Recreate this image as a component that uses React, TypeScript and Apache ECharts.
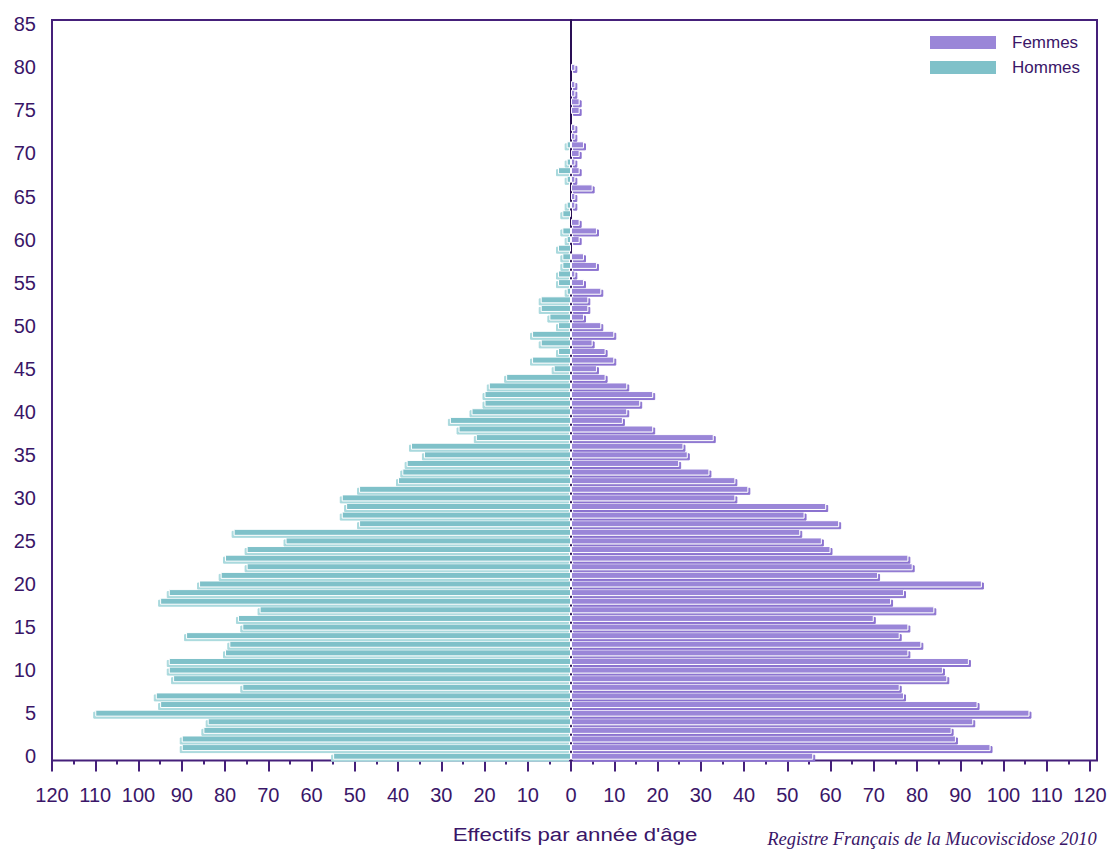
import React, { useEffect, useRef } from "react";
import * as echarts from "echarts";

// Age categories 0..85 (y axis)
const ages: string[] = [
  "0","1","2","3","4","5","6","7","8","9",
  "10","11","12","13","14","15","16","17","18","19",
  "20","21","22","23","24","25","26","27","28","29",
  "30","31","32","33","34","35","36","37","38","39",
  "40","41","42","43","44","45","46","47","48","49",
  "50","51","52","53","54","55","56","57","58","59",
  "60","61","62","63","64","65","66","67","68","69",
  "70","71","72","73","74","75","76","77","78","79",
  "80","81","82","83","84","85",
];

// Femmes, by age 0..80
const femmes: number[] = [
  56, 97, 89, 88, 93, 106, 94, 77, 76, 87,
  86, 92, 78, 81, 76, 78, 70, 84, 74, 77,
  95, 71, 79, 78, 60, 58, 53, 62, 54, 59,
  38, 41, 38, 32, 25, 27, 26, 33, 19, 12,
  13, 16, 19, 13, 8, 6, 10, 8, 5, 10,
  7, 3, 4, 4, 7, 3, 1, 6, 3, 0,
  2, 6, 2, 0, 1, 1, 5, 1, 2, 1,
  2, 3, 1, 1, 0, 2, 2, 1, 1, 0, 1,
];

// Hommes, by age 0..80
const hommes: number[] = [
  55, 90, 90, 85, 84, 110, 95, 96, 76, 92,
  93, 93, 80, 79, 89, 76, 77, 72, 95, 93,
  86, 81, 75, 80, 75, 66, 78, 49, 53, 52,
  53, 49, 40, 39, 38, 34, 37, 22, 26, 28,
  23, 20, 20, 19, 15, 4, 9, 3, 7, 9,
  3, 5, 7, 7, 1, 3, 3, 2, 2, 3,
  1, 2, 0, 2, 1, 0, 0, 1, 3, 1,
  0, 1, 0, 0, 0, 0, 0, 0, 0, 0, 0,
];

const xTickMin = -120;
const xTickMax = 120;
const xTickStep = 10;

const axisTitle = "Effectifs par année d'âge";
const sourceNote = "Registre Français de la Mucoviscidose 2010";

const INK = "#3a1668";
const AXIS = "#45207a";
const PURPLE = "#9a86d8";
const PURPLE_SHADOW = "#8b72d0";
const TEAL = "#7fc1c9";
const TEAL_SHADOW = "#a9d9dd";
const FONT = "'Liberation Sans', Arial, Helvetica, sans-serif";

export default function App() {
  const ref = useRef<HTMLDivElement>(null);

  useEffect(() => {
    if (!ref.current) return;
    const chart = echarts.init(ref.current, null, { renderer: "svg" });
    chart.setOption({
      animation: false,
      backgroundColor: "#ffffff",
      textStyle: { fontFamily: FONT, color: INK },
      grid: { left: 52, right: 21, top: 20, bottom: 89.5 },
      legend: {
        orient: "vertical",
        left: 928,
        top: 34,
        padding: 0,
        itemWidth: 68,
        itemHeight: 15,
        itemGap: 8,
        icon: "rect",
        data: ["Femmes", "Hommes"],
        textStyle: {
          fontFamily: FONT,
          fontSize: 17,
          color: INK,
          lineHeight: 15,
          padding: [0, 0, 0, 10],
        },
      },
      xAxis: {
        type: "value",
        min: xTickMin,
        max: xTickMax,
        interval: xTickStep,
        axisLine: { show: false, onZero: false },
        axisTick: { show: true, length: 11, lineStyle: { color: AXIS, width: 2 } },
        minorTick: { show: true, splitNumber: 2, length: 4, lineStyle: { color: AXIS, width: 2 } },
        splitLine: { show: false },
        axisLabel: {
          formatter: (v: number) => String(Math.abs(v)),
          fontSize: 20,
          color: INK,
          fontFamily: FONT,
          margin: 24,
        },
      },
      yAxis: [
        {
          type: "category",
          data: ages,
          position: "left",
          axisLine: { show: false, onZero: false },
          axisTick: { show: false },
          splitLine: { show: false },
          axisLabel: { interval: 4, fontSize: 20, color: INK, fontFamily: FONT, margin: 16 },
        },
        {
          type: "category",
          data: ages,
          position: "right",
          axisLine: { show: true, onZero: true, lineStyle: { color: "#2a0f55", width: 2 } },
          axisTick: { show: false },
          axisLabel: { show: false },
          splitLine: { show: false },
        },
      ],
      series: [
        {
          name: "Hommes",
          type: "bar",
          yAxisIndex: 0,
          barWidth: 7,
          barGap: "-100%",
          data: hommes.map((v) => -v),
          itemStyle: {
            color: TEAL,
            borderColor: "#ffffff",
            borderWidth: 1,
            shadowColor: TEAL_SHADOW,
            shadowBlur: 0,
            shadowOffsetX: -2,
            shadowOffsetY: 2,
          },
        },
        {
          name: "Femmes",
          type: "bar",
          yAxisIndex: 0,
          barWidth: 7,
          barGap: "-100%",
          data: femmes,
          itemStyle: {
            color: PURPLE,
            borderColor: "#ffffff",
            borderWidth: 1,
            shadowColor: PURPLE_SHADOW,
            shadowBlur: 0,
            shadowOffsetX: 2,
            shadowOffsetY: 2,
          },
        },
      ],
      graphic: [
        {
          type: "rect",
          silent: true,
          z: 0,
          shape: { x: 52, y: 20, width: 1045, height: 740.5 },
          style: { fill: "none", stroke: AXIS, lineWidth: 2 },
        },
        {
          type: "text",
          silent: true,
          x: 575,
          y: 834.5,
          scaleX: 1.17,
          style: {
            text: axisTitle,
            fill: INK,
            font: `19px ${FONT}`,
            textAlign: "center",
            textVerticalAlign: "middle",
          },
        },
        {
          type: "text",
          silent: true,
          x: 932,
          y: 829,
          style: {
            text: sourceNote,
            fill: INK,
            font: `italic 18.5px 'Liberation Serif', 'Times New Roman', serif`,
            textAlign: "center",
            textVerticalAlign: "top",
          },
        },
      ],
    });
    return () => chart.dispose();
  }, []);

  return (
    <div
      ref={ref}
      style={{ position: "absolute", left: 0, top: 0, width: 1111, height: 850 }}
    />
  );
}
